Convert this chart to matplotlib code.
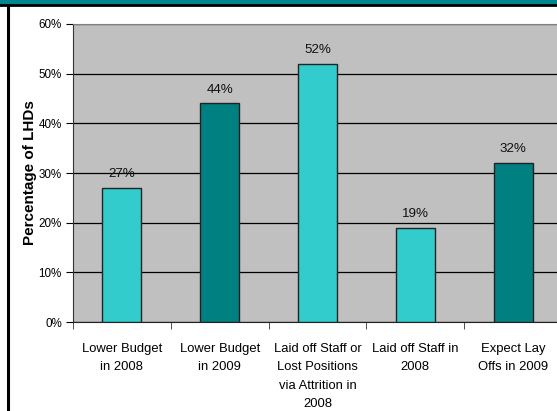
import matplotlib.pyplot as plt
from matplotlib.lines import Line2D
from matplotlib.patches import Rectangle

# chart data
categories = ['Lower Budget\nin 2008', 'Lower Budget\nin 2009',
              'Laid off Staff or\nLost Positions\nvia Attrition in\n2008',
              'Laid off Staff in\n2008', 'Expect Lay\nOffs in 2009']
values = [27, 44, 52, 19, 32]
bar_colors = ['#33CCCC', '#008080', '#33CCCC', '#33CCCC', '#008080']
yticks = [0, 10, 20, 30, 40, 50, 60]

plt.rcParams['font.family'] = ['Liberation Sans', 'DejaVu Sans']

W, H = 557, 411
fig = plt.figure(figsize=(W / 100, H / 100), dpi=100)

# frame bits: teal header, black rule and left border
fig.patches.append(Rectangle((0, 1 - 4 / H), 1, 4 / H, transform=fig.transFigure,
                             color='#00868f', zorder=0))
fig.lines.append(Line2D([0, 1], [1 - 5 / H, 1 - 5 / H], transform=fig.transFigure,
                        color='black', lw=2))
fig.lines.append(Line2D([7.5 / W, 7.5 / W], [0, 1 - 5 / H], transform=fig.transFigure,
                        color='black', lw=2.2))

left, right, top, bottom = 73, 562, 24, 322
ax = fig.add_axes([left / W, (H - bottom) / H, (right - left) / W, (bottom - top) / H])
ax.set_facecolor('#C0C0C0')

x = list(range(len(values)))
ax.bar(x, values, width=0.4, color=bar_colors, edgecolor='#222222', linewidth=1, zorder=3)

for xi, v in zip(x, values):
    ax.annotate(f'{v}%', (xi, v), xytext=(0, 5.5), textcoords='offset points',
                ha='center', va='bottom', fontsize=9.6, color='#111111')

ax.set_xlim(-0.5, 4.5)
ax.set_ylim(0, 60)
ax.set_yticks(yticks)
ax.set_yticklabels([f'{t}%' for t in yticks], fontsize=8.4)
ax.yaxis.grid(True, color='black', linewidth=0.9, zorder=1)
ax.set_axisbelow(True)

ax.set_xticks(x)
ax.set_xticklabels(categories, fontsize=9.4, linespacing=1.72, va='top')
ax.tick_params(axis='x', which='major', length=0, pad=15)
ax.set_xticks([i + 0.5 for i in range(-1, len(values))], minor=True)
ax.tick_params(axis='x', which='minor', length=5, direction='out', color='#333333')
ax.tick_params(axis='y', length=5, direction='out', pad=3)

ax.spines['top'].set_color('#808080')
ax.spines['right'].set_visible(False)
ax.spines['left'].set_color('#333333')
ax.spines['bottom'].set_color('#222222')

ax.set_ylabel('Percentage of LHDs', fontsize=11, fontweight='bold')
ax.yaxis.set_label_coords(-0.074, 0.5)

fig.savefig('out.png', dpi=100)
